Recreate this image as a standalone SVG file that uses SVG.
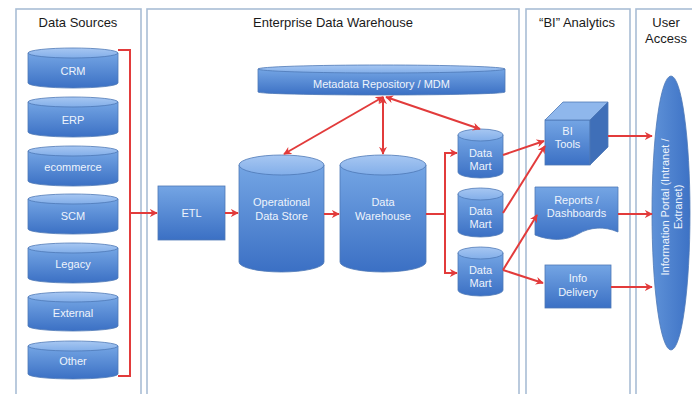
<svg xmlns="http://www.w3.org/2000/svg" width="692" height="394" viewBox="0 0 692 394">
<defs>
  <linearGradient id="body" x1="0" y1="0" x2="0" y2="1">
    <stop offset="0" stop-color="#74a5e4"/>
    <stop offset="1" stop-color="#3b70c4"/>
  </linearGradient>
  <linearGradient id="topg" x1="0" y1="0" x2="0" y2="1">
    <stop offset="0" stop-color="#a7c7f2"/>
    <stop offset="1" stop-color="#82aee9"/>
  </linearGradient>
  <linearGradient id="portal" x1="0" y1="0" x2="1" y2="0">
    <stop offset="0" stop-color="#5f92d8"/>
    <stop offset="1" stop-color="#3d72c5"/>
  </linearGradient>
  <marker id="ah" viewBox="0 0 10 10" refX="9" refY="5" markerWidth="4" markerHeight="4" orient="auto-start-reverse" markerUnits="strokeWidth">
    <path d="M0,0 L10,5 L0,10 L3,5 Z" fill="#e23b3b"/>
  </marker>
  <style>
    .panel{fill:#ffffff;stroke:#a9bdd5;stroke-width:1.6}
    .title{font-family:"Liberation Sans",Arial,sans-serif;font-size:13px;fill:#1a1a1a;text-anchor:middle}
    .body{fill:url(#body);stroke:#4e78b6;stroke-width:0.8}
    .top{fill:url(#topg);stroke:#4e78b6;stroke-width:0.8}
    .lbl{font-family:"Liberation Sans",Arial,sans-serif;font-size:11px;fill:#eef4fc;text-anchor:middle}
    .con{fill:none;stroke:#e23b3b;stroke-width:2}
    .arr{fill:none;stroke:#e23b3b;stroke-width:2;marker-end:url(#ah)}
    .arr2{fill:none;stroke:#e23b3b;stroke-width:2;marker-end:url(#ah);marker-start:url(#ah)}
  </style>
</defs>

<g id="panels">
  <rect class="panel" x="16" y="9" width="125" height="400"/>
  <rect class="panel" x="147" y="9" width="372" height="400"/>
  <rect class="panel" x="526" y="9" width="104" height="400"/>
  <rect class="panel" x="636" y="9" width="70" height="400"/>
  <text class="title" x="78" y="27">Data Sources</text>
  <text class="title" x="333" y="27">Enterprise Data Warehouse</text>
  <text class="title" x="577" y="27">“BI” Analytics</text>
  <text class="title" x="666" y="27">User</text>
  <text class="title" x="666" y="43">Access</text>
</g>

<g id="crm">
  <path class="body" d="M28,53 V83 A45,5 0 0 0 118,83 V53 Z"/>
  <ellipse class="top" cx="73" cy="53" rx="45" ry="5"/>
  <text class="lbl" x="73" y="75">CRM</text>
</g>
<g id="erp">
  <path class="body" d="M28,102 V132 A45,5 0 0 0 118,132 V102 Z"/>
  <ellipse class="top" cx="73" cy="102" rx="45" ry="5"/>
  <text class="lbl" x="73" y="124">ERP</text>
</g>
<g id="ecommerce">
  <path class="body" d="M28,151 V181 A45,5 0 0 0 118,181 V151 Z"/>
  <ellipse class="top" cx="73" cy="151" rx="45" ry="5"/>
  <text class="lbl" x="73" y="171">ecommerce</text>
</g>
<g id="scm">
  <path class="body" d="M28,199 V229 A45,5 0 0 0 118,229 V199 Z"/>
  <ellipse class="top" cx="73" cy="199" rx="45" ry="5"/>
  <text class="lbl" x="73" y="220">SCM</text>
</g>
<g id="legacy">
  <path class="body" d="M28,248 V278 A45,5 0 0 0 118,278 V248 Z"/>
  <ellipse class="top" cx="73" cy="248" rx="45" ry="5"/>
  <text class="lbl" x="73" y="268">Legacy</text>
</g>
<g id="external">
  <path class="body" d="M28,297 V326 A45,5 0 0 0 118,326 V297 Z"/>
  <ellipse class="top" cx="73" cy="297" rx="45" ry="5"/>
  <text class="lbl" x="73" y="317">External</text>
</g>
<g id="other">
  <path class="body" d="M28,346 V374 A45,5 0 0 0 118,374 V346 Z"/>
  <ellipse class="top" cx="73" cy="346" rx="45" ry="5"/>
  <text class="lbl" x="73" y="365">Other</text>
</g>

<g id="etl">
  <rect class="body" x="158" y="186" width="67" height="54"/>
  <text class="lbl" x="191.5" y="217">ETL</text>
</g>

<g id="metadata">
  <path class="body" d="M258,69 V92 A123.5,3 0 0 0 505,92 V69 Z"/>
  <ellipse class="top" cx="381.5" cy="69" rx="123.5" ry="4"/>
  <text class="lbl" x="381.5" y="88">Metadata Repository / MDM</text>
</g>

<g id="ods">
  <path class="body" d="M239,165 V262 A42.5,10 0 0 0 324,262 V165 Z"/>
  <ellipse class="top" cx="281.5" cy="165" rx="42.5" ry="10"/>
  <text class="lbl" x="281.5" y="206">Operational</text>
  <text class="lbl" x="281.5" y="220">Data Store</text>
</g>

<g id="dw">
  <path class="body" d="M340,165 V262 A43,10 0 0 0 426,262 V165 Z"/>
  <ellipse class="top" cx="383" cy="165" rx="43" ry="10"/>
  <text class="lbl" x="383" y="206">Data</text>
  <text class="lbl" x="383" y="220">Warehouse</text>
</g>

<g id="mart1">
  <path class="body" d="M458,135 V172 A22.5,6 0 0 0 503,172 V135 Z"/>
  <ellipse class="top" cx="480.5" cy="135" rx="22.5" ry="6"/>
  <text class="lbl" x="480.5" y="157">Data</text>
  <text class="lbl" x="480.5" y="170">Mart</text>
</g>
<g id="mart2">
  <path class="body" d="M458,194 V231 A22.5,6 0 0 0 503,231 V194 Z"/>
  <ellipse class="top" cx="480.5" cy="194" rx="22.5" ry="6"/>
  <text class="lbl" x="480.5" y="215">Data</text>
  <text class="lbl" x="480.5" y="228">Mart</text>
</g>
<g id="mart3">
  <path class="body" d="M458,253 V290 A22.5,6 0 0 0 503,290 V253 Z"/>
  <ellipse class="top" cx="480.5" cy="253" rx="22.5" ry="6"/>
  <text class="lbl" x="480.5" y="274">Data</text>
  <text class="lbl" x="480.5" y="287">Mart</text>
</g>

<g id="bitools">
  <rect class="body" x="545" y="120" width="45" height="45"/>
  <path d="M545,120 L563,102 L608,102 L590,120 Z" fill="#8fb7ec" stroke="#4e78b6" stroke-width="0.8"/>
  <path d="M590,120 L608,102 L608,147 L590,165 Z" fill="#3f6fb8" stroke="#4e78b6" stroke-width="0.8"/>
  <text class="lbl" x="567.5" y="135">BI</text>
  <text class="lbl" x="567.5" y="148">Tools</text>
</g>

<g id="reports">
  <path class="body" d="M535,187 H618 V232 C604,226 590,227 578,234 C566,241 550,241 535,235 Z"/>
  <text class="lbl" x="576.5" y="204">Reports /</text>
  <text class="lbl" x="576.5" y="217">Dashboards</text>
</g>

<g id="infodelivery">
  <rect class="body" x="545" y="265" width="66" height="43"/>
  <text class="lbl" x="578" y="282">Info</text>
  <text class="lbl" x="578" y="296">Delivery</text>
</g>

<g id="portal">
  <ellipse cx="671" cy="213" rx="19" ry="137" fill="url(#portal)" stroke="#4e78b6" stroke-width="0.8"/>
  <g transform="translate(671,207) rotate(-90)">
    <text class="lbl" x="0" y="-2">Information Portal (Intranet /</text>
    <text class="lbl" x="0" y="11">Extranet)</text>
  </g>
</g>

<g id="connectors">
  <path class="con" d="M118,50 H130 V376 H118"/>
  <path class="arr" d="M130,213 H157"/>
  <path class="arr" d="M225,213 H238"/>
  <path class="arr" d="M324,214 H339"/>
  <path class="arr2" d="M284,154 L383,97"/>
  <path class="arr2" d="M383,154 V97"/>
  <path class="arr2" d="M480,129 L386,97"/>
  <path class="con" d="M426,214 H445"/>
  <path class="arr" d="M445,214 V153 H457"/>
  <path class="arr" d="M445,214 V273 H457"/>
  <path class="arr" d="M503,155 L544,141"/>
  <path class="arr" d="M503,213 L545,146"/>
  <path class="arr" d="M503,270 L537,215"/>
  <path class="arr" d="M503,270 L543,283"/>
  <path class="arr" d="M608,136 L652,136"/>
  <path class="arr" d="M618,214 L652,214"/>
  <path class="arr" d="M611,287 L652,287"/>
</g>
</svg>
